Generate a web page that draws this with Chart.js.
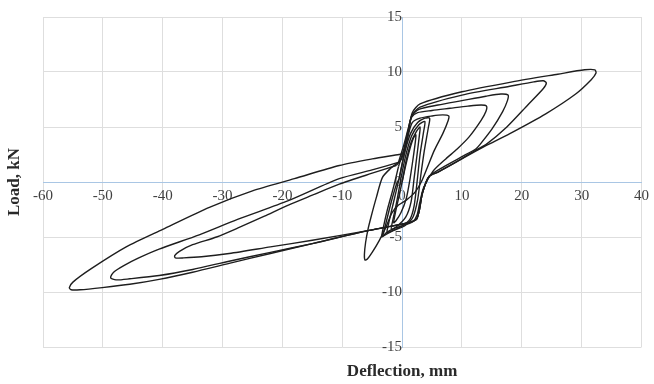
<!DOCTYPE html>
<html>
<head>
<meta charset="utf-8">
<script src="https://cdn.jsdelivr.net/npm/chart.js@4/dist/chart.umd.min.js"></script>
<style>
  html, body { margin: 0; padding: 0; background: #ffffff; }
  canvas { display: block; }
</style>
</head>
<body>
<canvas id="chart" width="654" height="384"></canvas>
<script>
// Axis ticks and titles
const deflectionTicks = [-60, -50, -40, -30, -20, -10, 0, 10, 20, 30, 40];
const loadTicks = [-15, -10, -5, 0, 5, 10, 15];
const xTitle = 'Deflection, mm';
const yTitle = 'Load, kN';

// Load path, cycle by cycle (deflection in mm, load in kN)
const cycle1Deflection = [0, 0.6, 1.3, 1.9, 2.3, 2.2, 1.8, 1.3, 0.7, -0.2, -1.0, -1.4, -1.2, -0.6, 0];
const cycle1Load       = [0, 1.5, 3.0, 4.0, 4.3, 3.6, 2.0, 0.2, -1.5, -2.8, -3.5, -3.7, -3.0, -1.5, 0];

const cycle2Deflection = [0, 0.7, 1.5, 2.4, 3.0, 2.9, 2.5, 2.0, 1.5, 0.6, -0.8, -1.8, -1.6, -0.9, -0.2];
const cycle2Load       = [0, 2.0, 3.6, 4.6, 5.0, 4.3, 2.5, 0.3, -1.8, -3.2, -4.0, -4.3, -3.6, -1.8, 0.3];

const cycle3Deflection = [-0.2, 0.6, 1.6, 2.8, 3.8, 3.6, 3.0, 2.5, 2.0, 1.3, 0, -1.5, -2.5, -2.3, -1.5, -0.5];
const cycle3Load       = [0.3, 2.4, 4.2, 5.2, 5.5, 4.6, 2.5, 0, -2.2, -3.4, -4.0, -4.4, -4.6, -3.9, -2.0, 0.3];

const cycle4Deflection = [-0.5, 0.4, 1.4, 2.6, 3.8, 4.6, 4.4, 3.7, 3.1, 2.6, 1.8, 0.4, -1.4, -2.8, -3.2, -2.9, -2.0, -1.0, -0.5];
const cycle4Load       = [0.3, 2.6, 4.4, 5.4, 5.8, 5.8, 5.0, 2.8, 0.5, -1.6, -3.2, -4.0, -4.4, -4.8, -4.9, -4.2, -2.2, -0.3, 0.3];

const cycle5Deflection = [-0.5, 0.3, 1.0, 1.7, 3.0, 5.0, 6.8, 7.8, 7.7, 6.8, 5.4, 4.2, 3.2, 2.2, 0.8,
                          -0.6, -1.7, -2.7, -3.8, -5.0, -5.8, -6.2, -6.3, -6.1, -5.7, -5.2, -4.3, -3.3, -2.0, -0.6];
const cycle5Load       = [0.3, 2.4, 4.2, 5.4, 5.8, 6.0, 6.1, 6.0, 5.6, 4.4, 2.9, 1.3, 0.0, -0.9, -1.6,
                          -2.1, -2.8, -4.1, -5.3, -6.4, -7.0, -7.1, -6.6, -5.5, -4.3, -3.2, -1.4, 0.4, 1.2, 1.8];

const cycle6Deflection = [-0.6, 0.3, 1.0, 1.6, 2.6, 5.0, 8.0, 11.0, 13.2, 14.1, 14.0, 13.2, 11.2, 9.2,
                          7.3, 5.2, 3.6, 2.9, 2.5, 1.8, 0.5, -1.2, -2.6, -3.4, -3.2, -2.5, -1.5, -0.6];
const cycle6Load       = [1.8, 3.4, 4.8, 5.9, 6.3, 6.5, 6.7, 6.9, 7.0, 6.9, 6.4, 5.6, 4.1, 3.0,
                          2.1, 1.0, -0.5, -2.0, -3.0, -3.6, -3.9, -4.2, -4.6, -5.0, -4.3, -2.6, -0.6, 1.4];

const cycle7PushDeflection = [-0.6, 0.3, 1.0, 1.6, 2.8, 6.0, 10.0, 14.0, 16.5, 17.7, 17.6, 16.8, 15.0, 13.0,
                              12.3, 10.0, 7.0, 4.5, 3.4, 2.9, 2.4, 1.2];
const cycle7PushLoad       = [1.4, 3.0, 4.7, 6.0, 6.6, 7.0, 7.4, 7.8, 8.0, 7.9, 7.4, 6.4, 4.8, 3.4,
                              3.0, 2.3, 1.4, 0.5, -1.0, -2.5, -3.4, -3.7];
const cycle7PullDeflection = [1.2, -5.5, -15, -22, -28.9, -33.5, -36.5, -37.9, -38.0, -37.2, -35.0, -31.0,
                              -27.5, -23.0, -19.0, -15.0, -10.5, -5.0, -1.0];
const cycle7PullLoad       = [-3.7, -4.4, -5.3, -5.9, -6.5, -6.8, -6.9, -6.9, -6.7, -6.3, -5.7, -5.0,
                              -4.2, -3.1, -2.1, -1.2, -0.2, 0.8, 1.5];

const cycle8PushDeflection = [-1.0, -0.2, 0.3, 1.0, 1.6, 3.0, 10.0, 18.0, 22.0, 23.6, 24.1, 23.6, 21.0,
                              17.5, 14.0, 12.3, 9.0, 6.0, 4.5, 3.4, 2.9, 2.4, 1.2];
const cycle8PushLoad       = [1.5, 2.0, 2.8, 4.4, 6.0, 6.8, 7.9, 8.7, 9.1, 9.2, 9.0, 8.5, 7.0,
                              5.0, 3.4, 2.9, 1.8, 0.9, 0.5, -1.0, -2.5, -3.4, -3.7];
const cycle8PullDeflection = [1.2, -5.5, -15, -22, -28.9, -35.0, -40.6, -45.5, -47.8, -48.7, -48.2, -46.5,
                              -44.0, -40.6, -33.9, -27.5, -19.0, -10.5, -5.0, -0.5];
const cycle8PullLoad       = [-3.7, -4.4, -5.6, -6.4, -7.2, -7.95, -8.5, -8.8, -8.9, -8.7, -8.2, -7.6,
                              -6.9, -6.1, -4.8, -3.4, -1.7, 0.3, 1.1, 1.8];

const cycle9PushDeflection = [-0.5, 0.2, 0.7, 1.2, 1.7, 3.0, 10.0, 18.4, 26.0, 30.5, 32.2, 32.4, 31.6,
                              29.0, 24.0, 18.0, 14.0, 12.3, 9.0, 6.0, 4.5, 3.4, 2.9, 2.4, 1.2];
const cycle9PushLoad       = [1.8, 2.6, 3.6, 5.0, 6.3, 7.1, 8.2, 9.1, 9.8, 10.2, 10.2, 9.9, 9.3,
                              8.0, 6.2, 4.4, 3.3, 2.8, 1.8, 0.9, 0.5, -1.0, -2.5, -3.4, -3.7];
const cycle9PullDeflection = [1.2, -5.5, -15, -22, -28.9, -35.0, -40.6, -45.5, -50.1, -53.8, -55.3, -55.6,
                              -55.0, -52.0, -46.1, -40.0, -32.2, -25.0, -18.0, -10.5, -5.0, -0.5, 0.5];
const cycle9PullLoad       = [-3.7, -4.4, -5.6, -6.5, -7.4, -8.2, -8.85, -9.3, -9.6, -9.8, -9.8, -9.6,
                              -9.1, -7.9, -5.9, -4.3, -2.3, -0.8, 0.3, 1.5, 2.1, 2.5, 2.6];

const segments = [
  [cycle1Deflection, cycle1Load],
  [cycle2Deflection, cycle2Load],
  [cycle3Deflection, cycle3Load],
  [cycle4Deflection, cycle4Load],
  [cycle5Deflection, cycle5Load],
  [cycle6Deflection, cycle6Load],
  [cycle7PushDeflection, cycle7PushLoad],
  [cycle7PullDeflection, cycle7PullLoad],
  [cycle8PushDeflection, cycle8PushLoad],
  [cycle8PullDeflection, cycle8PullLoad],
  [cycle9PushDeflection, cycle9PushLoad],
  [cycle9PullDeflection, cycle9PullLoad]
];

const datasets = segments.map(([defl, load]) => ({
  data: defl.map((x, i) => ({ x: x, y: load[i] })),
  showLine: true,
  borderColor: '#1e1e1e',
  borderWidth: 1.4,
  pointRadius: 0,
  tension: 0.25,
  fill: false
}));

const gridGray = '#dedede';
const axisBlue = '#a9c6e4';
const tickFont = { family: '"Liberation Serif", "Times New Roman", serif', size: 15 };

// Axis titles sit outside the centred axes
const axisTitles = {
  id: 'axisTitles',
  afterDraw(chart) {
    const { ctx, scales } = chart;
    ctx.save();
    ctx.fillStyle = '#2a2a2a';
    ctx.font = 'bold 17px "Liberation Serif", "Times New Roman", serif';
    ctx.textAlign = 'center';
    ctx.textBaseline = 'middle';
    ctx.fillText(xTitle, scales.x.getPixelForValue(0), 372);
    ctx.translate(15, scales.y.getPixelForValue(0));
    ctx.rotate(-Math.PI / 2);
    ctx.fillText(yTitle, 0, 0);
    ctx.restore();
  }
};

new Chart(document.getElementById('chart'), {
  type: 'scatter',
  data: { datasets: datasets },
  options: {
    responsive: false,
    devicePixelRatio: 1,
    animation: false,
    layout: { padding: { left: 43, right: 11, top: 17, bottom: 37 } },
    plugins: { legend: { display: false }, tooltip: { enabled: false } },
    scales: {
      x: {
        type: 'linear',
        position: { y: 0 },
        min: -60, max: 40,
        afterBuildTicks: (axis) => { axis.ticks = deflectionTicks.map(v => ({ value: v })); },
        grid: {
          color: (c) => (c.tick && c.tick.value === 0 ? axisBlue : gridGray),
          lineWidth: 1,
          drawTicks: false
        },
        border: { color: axisBlue, width: 1 },
        ticks: { color: '#404040', font: tickFont, padding: 5, maxRotation: 0, autoSkip: false }
      },
      y: {
        type: 'linear',
        position: { x: 0 },
        min: -15, max: 15,
        afterBuildTicks: (axis) => { axis.ticks = loadTicks.map(v => ({ value: v })); },
        grid: {
          color: (c) => (c.tick && c.tick.value === 0 ? axisBlue : gridGray),
          lineWidth: 1,
          drawTicks: false
        },
        border: { color: axisBlue, width: 1 },
        ticks: { color: '#404040', font: tickFont, padding: 5, autoSkip: false }
      }
    }
  },
  plugins: [axisTitles]
});
</script>
</body>
</html>
